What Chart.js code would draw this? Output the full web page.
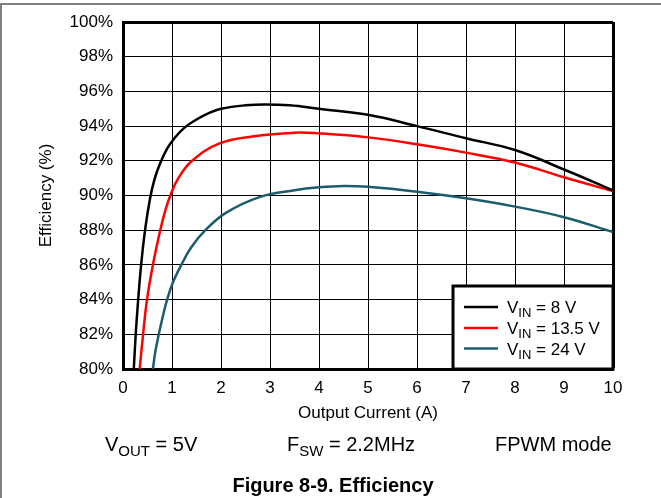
<!DOCTYPE html>
<html>
<head>
<meta charset="utf-8">
<script src="https://cdn.jsdelivr.net/npm/chart.js@4.4.1/dist/chart.umd.min.js"></script>
<style>
  html, body { margin: 0; padding: 0; background: #fff; }
  #wrap { width: 661px; height: 498px; position: relative; }
</style>
</head>
<body>
<div id="wrap"><canvas id="eff" width="661" height="498"></canvas></div>
<script>
// values (A, %)
const current8 = [0.22, 0.26, 0.31, 0.37, 0.45, 0.55, 0.64, 0.75, 0.9, 1.05, 1.25, 1.5, 1.75, 2.0, 2.5, 2.9, 3.4, 4.0, 5.0, 6.0, 7.0, 8.0, 9.0, 10.0];
const eff8 = [80, 82, 84, 86, 88, 89.8, 90.9, 91.8, 92.7, 93.3, 93.9, 94.38, 94.75, 95.0, 95.2, 95.25, 95.2, 95.0, 94.65, 94.0, 93.3, 92.62, 91.5, 90.3];

const current13 = [0.34, 0.41, 0.49, 0.61, 0.76, 0.87, 0.98, 1.13, 1.41, 1.97, 2.64, 3.5, 4.0, 5.0, 6.0, 7.0, 8.0, 9.0, 10.0];
const eff13 = [80, 82, 84, 86, 88, 89.2, 90.1, 91, 92, 93, 93.4, 93.62, 93.58, 93.35, 92.95, 92.47, 91.9, 91.05, 90.25];

const current24 = [0.61, 0.66, 0.73, 0.81, 0.9, 1.02, 1.19, 1.39, 1.68, 2.1, 2.8, 3.5, 4.0, 4.5, 5.0, 6.0, 7.0, 8.0, 9.0, 10.0];
const eff24 = [80, 81, 82, 83, 84, 85, 86, 87, 88, 89, 89.92, 90.3, 90.47, 90.55, 90.5, 90.22, 89.84, 89.36, 88.75, 87.9];

const seriesNames = ['8 V', '13.5 V', '24 V'];
const seriesColors = ['#000000', '#ff0000', '#1b5d6c'];
const xTicks = [0, 1, 2, 3, 4, 5, 6, 7, 8, 9, 10];
const yGrid = [80, 81, 82, 83, 84, 85, 86, 87, 88, 89, 90, 91, 92, 93, 94, 95, 96, 97, 98, 99, 100];
const yLabels = [80, 82, 84, 86, 88, 90, 92, 94, 96, 98, 100];

const FONT = '"Liberation Sans", Arial, sans-serif';

const toPts = (xs, ys) => xs.map((x, i) => ({ x: x, y: ys[i] }));

// subscript text helper
function subText(ctx, x, y, main, sub, rest, size, subSize) {
    ctx.font = size + 'px ' + FONT;
    ctx.fillText(main, x, y);
    x += ctx.measureText(main).width;
    ctx.font = subSize + 'px ' + FONT;
    ctx.fillText(sub, x, y + size * 0.25);
    x += ctx.measureText(sub).width;
    ctx.font = size + 'px ' + FONT;
    ctx.fillText(rest, x, y);
}

const extras = {
    id: 'extras',
    afterDraw(chart) {
        const ctx = chart.ctx;
        const area = chart.chartArea;
        ctx.save();
        // page frame
        ctx.strokeStyle = '#808080';
        ctx.lineWidth = 2;
        ctx.beginPath();
        ctx.moveTo(0, 4);
        ctx.lineTo(661, 4);
        ctx.moveTo(1, 4);
        ctx.lineTo(1, 498);
        ctx.stroke();

        // legend box
        const lx = 453, ly = 286, lw = area.right - 453, lh = area.bottom - 286;
        ctx.fillStyle = '#fff';
        ctx.fillRect(lx, ly, lw, lh);
        ctx.strokeStyle = '#000';
        ctx.lineWidth = 3;
        ctx.strokeRect(lx, ly, lw, lh);
        const rows = [307, 328, 348.5];
        seriesNames.forEach((name, i) => {
            ctx.strokeStyle = seriesColors[i];
            ctx.lineWidth = 2.5;
            ctx.beginPath();
            ctx.moveTo(464, rows[i]);
            ctx.lineTo(498, rows[i]);
            ctx.stroke();
            ctx.fillStyle = '#000';
            ctx.textBaseline = 'alphabetic';
            subText(ctx, 507, rows[i] + 6, 'V', 'IN', ' = ' + name, 17, 13);
        });

        // conditions and caption
        ctx.fillStyle = '#000';
        subText(ctx, 105, 451, 'V', 'OUT', ' = 5V', 20, 15);
        subText(ctx, 287, 451, 'F', 'SW', ' = 2.2MHz', 20, 15);
        ctx.font = '20px ' + FONT;
        ctx.fillText('FPWM mode', 495, 451);
        ctx.font = 'bold 20px ' + FONT;
        ctx.textAlign = 'center';
        ctx.fillText('Figure 8-9. Efficiency', 333, 492);
        ctx.restore();
    }
};

const ctx = document.getElementById('eff').getContext('2d');
new Chart(ctx, {
    type: 'line',
    data: {
        datasets: [
            { label: seriesNames[0], data: toPts(current8, eff8), borderColor: seriesColors[0] },
            { label: seriesNames[1], data: toPts(current13, eff13), borderColor: seriesColors[1] },
            { label: seriesNames[2], data: toPts(current24, eff24), borderColor: seriesColors[2] }
        ]
    },
    options: {
        responsive: false,
        animation: false,
        devicePixelRatio: 1,
        layout: { padding: { left: 0, top: 22, right: 48, bottom: 74 } },
        elements: {
            point: { radius: 0 },
            line: { borderWidth: 2.5, tension: 0.4, fill: false }
        },
        plugins: { legend: { display: false }, tooltip: { enabled: false } },
        scales: {
            x: {
                type: 'linear',
                min: 0,
                max: 10,
                afterBuildTicks: (s) => { s.ticks = xTicks.map(v => ({ value: v })); },
                afterFit: (s) => { s.height = 55; },
                grid: {
                    color: '#000',
                    lineWidth: (c) => (c.tick && c.tick.value === 10 ? 3 : 1),
                    drawTicks: false
                },
                border: { display: true, color: '#000', width: 3 },
                ticks: { color: '#000', padding: 9, font: { family: FONT, size: 17 }, maxRotation: 0 },
                title: {
                    display: true,
                    text: 'Output Current (A)',
                    color: '#000',
                    font: { family: FONT, size: 17 },
                    padding: { top: 0, bottom: 0 }
                }
            },
            y: {
                min: 80,
                max: 100,
                afterBuildTicks: (s) => { s.ticks = yGrid.map(v => ({ value: v })); },
                afterFit: (s) => { s.width = 123; },
                grid: {
                    color: '#000',
                    lineWidth: (c) => (c.tick && c.tick.value === 100 ? 3 : 1),
                    drawTicks: false
                },
                border: { display: true, color: '#000', width: 3 },
                ticks: {
                    color: '#000',
                    padding: 10,
                    font: { family: FONT, size: 17 },
                    callback: (v) => (yLabels.includes(v) ? v + '%' : '')
                },
                title: {
                    display: true,
                    text: 'Efficiency (%)',
                    color: '#000',
                    font: { family: FONT, size: 17 },
                    padding: { top: 36, bottom: 0 }
                }
            }
        }
    },
    plugins: [extras]
});
</script>
</body>
</html>
